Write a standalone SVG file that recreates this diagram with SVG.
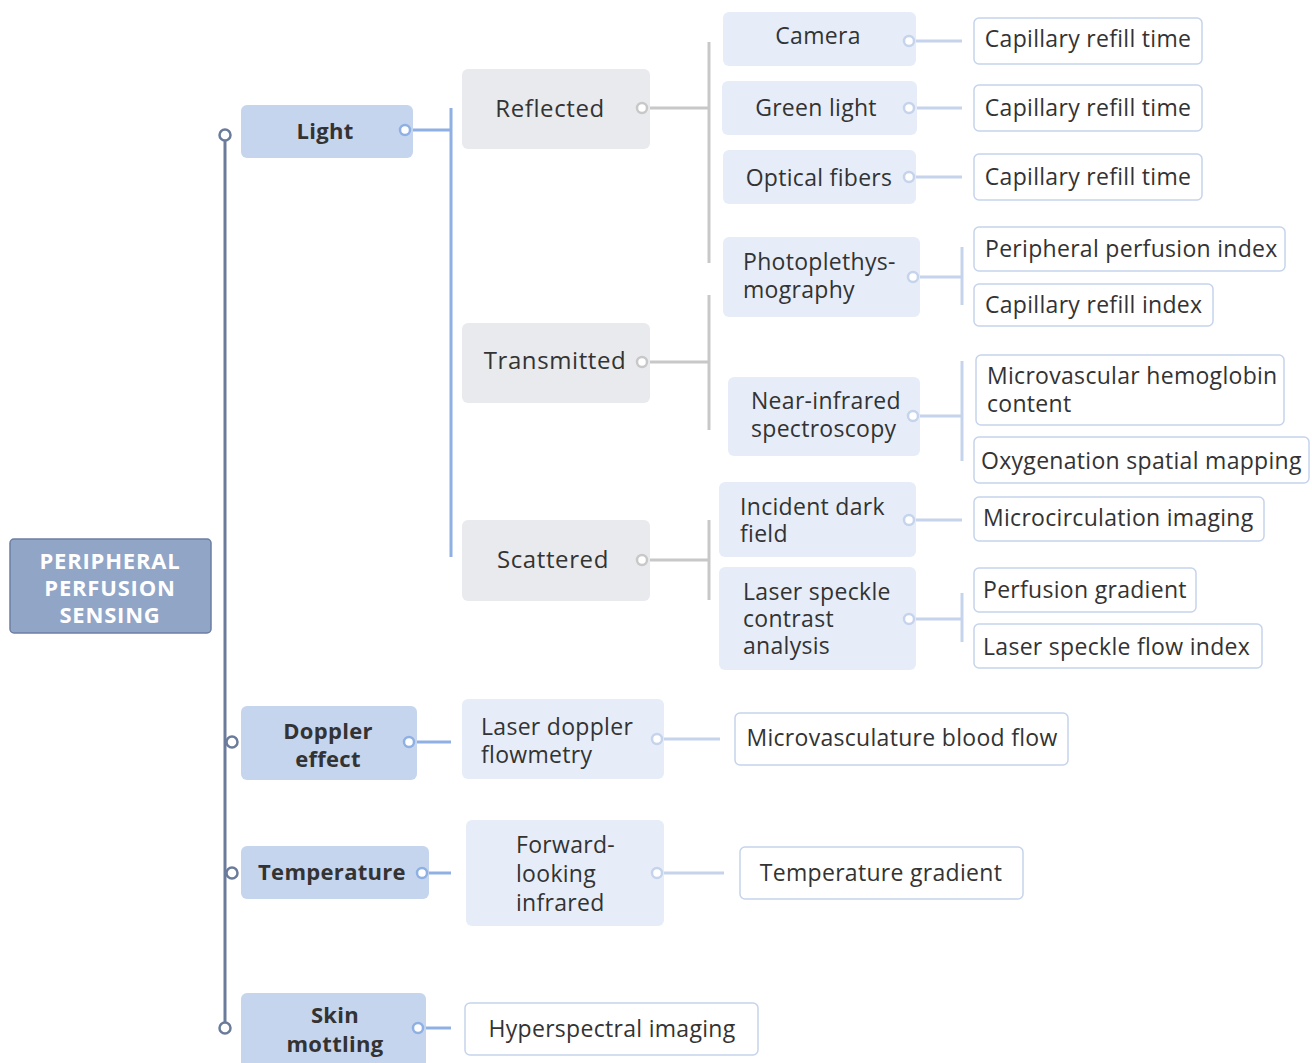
<svg xmlns="http://www.w3.org/2000/svg" width="1312" height="1063" viewBox="0 0 1312 1063">
<style>
text{font-family:"Open Sans","Noto Sans","Liberation Sans",sans-serif;font-size:23px;letter-spacing:0.3px;fill:#333;}
.c{text-anchor:middle;}
.b{font-weight:bold;font-size:22px;letter-spacing:0.3px;}
.root rect{fill:#91a5c7;stroke:#6c7fa2;stroke-width:1.5;}
.root text{fill:#fff;font-weight:bold;font-size:22px;letter-spacing:0.8px;text-anchor:middle;}
.l1 rect{fill:#c6d5ee;}
.l2 rect{fill:#e8eaee;}
.l2 text{font-size:24px;letter-spacing:0.6px;font-weight:500;}
.l3 rect{fill:#e6edf8;}
.leaf rect{fill:#fff;stroke:#c5d4ec;stroke-width:1.5;}
.trunk{stroke:#6b7b9b;stroke-width:3;fill:none;}
.blue{stroke:#8fb0e3;stroke-width:3;fill:none;}
.lblue{stroke:#c5d4ec;stroke-width:3;fill:none;}
.gray{stroke:#c8c8c8;stroke-width:3;fill:none;}
.dk{fill:#fff;stroke:#6b7b9b;stroke-width:2.5;}
.db{fill:#fff;stroke:#8fb0e3;stroke-width:2.5;}
.dl{fill:#fff;stroke:#c5d4ec;stroke-width:2.5;}
.dg{fill:#fff;stroke:#c8c8c8;stroke-width:2.5;}
</style>
<rect width="1312" height="1063" fill="#fff"/>
<g id="connectors">
<line class="trunk" x1="225" y1="135" x2="225" y2="1028"/>
<line class="blue" x1="410" y1="130" x2="451" y2="130"/>
<line class="blue" x1="451" y1="108" x2="451" y2="557"/>
<line class="blue" x1="414" y1="742" x2="451" y2="742"/>
<line class="blue" x1="427" y1="873" x2="451" y2="873"/>
<line class="blue" x1="423" y1="1028" x2="451" y2="1028"/>
<line class="gray" x1="647" y1="108" x2="709" y2="108"/>
<line class="gray" x1="709" y1="42" x2="709" y2="263"/>
<line class="gray" x1="647" y1="362" x2="709" y2="362"/>
<line class="gray" x1="709" y1="295" x2="709" y2="430"/>
<line class="gray" x1="647" y1="560" x2="709" y2="560"/>
<line class="gray" x1="709" y1="520" x2="709" y2="600"/>
<line class="lblue" x1="914" y1="41" x2="962" y2="41"/>
<line class="lblue" x1="914" y1="108" x2="962" y2="108"/>
<line class="lblue" x1="914" y1="177" x2="962" y2="177"/>
<line class="lblue" x1="918" y1="277" x2="962" y2="277"/>
<line class="lblue" x1="962" y1="247" x2="962" y2="305"/>
<line class="lblue" x1="918" y1="416" x2="962" y2="416"/>
<line class="lblue" x1="962" y1="361" x2="962" y2="461"/>
<line class="lblue" x1="914" y1="520" x2="962" y2="520"/>
<line class="lblue" x1="914" y1="619" x2="962" y2="619"/>
<line class="lblue" x1="962" y1="593" x2="962" y2="642"/>
<line class="lblue" x1="662" y1="739" x2="720" y2="739"/>
<line class="lblue" x1="662" y1="873" x2="724" y2="873"/>
</g>
<g id="root" class="root">
<rect x="10" y="539" width="201" height="94" rx="4"/>
<text x="110" y="569">PERIPHERAL</text>
<text x="110" y="596">PERFUSION</text>
<text x="110" y="623">SENSING</text>
</g>
<g id="light" class="l1">
<rect x="241" y="105" width="172" height="53" rx="6"/>
<text class="c b" x="325" y="139">Light</text>
</g>
<g id="doppler" class="l1">
<rect x="241" y="706" width="176" height="74" rx="6"/>
<text class="c b" x="328" y="739">Doppler</text>
<text class="c b" x="328" y="767">effect</text>
</g>
<g id="temperature" class="l1">
<rect x="241" y="846" width="188" height="53" rx="6"/>
<text class="c b" x="332" y="880">Temperature</text>
</g>
<g id="skin" class="l1">
<rect x="241" y="993" width="185" height="76" rx="6"/>
<text class="c b" x="335" y="1023">Skin</text>
<text class="c b" x="335" y="1052">mottling</text>
</g>
<g id="reflected" class="l2">
<rect x="462" y="69" width="188" height="80" rx="6"/>
<text class="c" x="550" y="117">Reflected</text>
</g>
<g id="transmitted" class="l2">
<rect x="462" y="323" width="188" height="80" rx="6"/>
<text class="c" x="555" y="369">Transmitted</text>
</g>
<g id="scattered" class="l2">
<rect x="462" y="520" width="188" height="81" rx="6"/>
<text class="c" x="553" y="568">Scattered</text>
</g>
<g id="camera" class="l3">
<rect x="723" y="12" width="193" height="54" rx="6"/>
<text class="c" x="818" y="44">Camera</text>
</g>
<g id="greenlight" class="l3">
<rect x="722" y="81" width="195" height="54" rx="6"/>
<text class="c" x="816" y="116">Green light</text>
</g>
<g id="opticalfibers" class="l3">
<rect x="723" y="150" width="193" height="54" rx="6"/>
<text class="c" x="819" y="186">Optical fibers</text>
</g>
<g id="ppg" class="l3">
<rect x="723" y="237" width="197" height="80" rx="6"/>
<text x="743" y="270">Photoplethys-</text>
<text x="743" y="298">mography</text>
</g>
<g id="nirs" class="l3">
<rect x="728" y="377" width="192" height="79" rx="6"/>
<text x="751" y="409">Near-infrared</text>
<text x="751" y="437">spectroscopy</text>
</g>
<g id="idf" class="l3">
<rect x="719" y="482" width="197" height="75" rx="6"/>
<text x="740" y="515">Incident dark</text>
<text x="740" y="542">field</text>
</g>
<g id="lsca" class="l3">
<rect x="719" y="567" width="197" height="103" rx="6"/>
<text x="743" y="600">Laser speckle</text>
<text x="743" y="627">contrast</text>
<text x="743" y="654">analysis</text>
</g>
<g id="ldf" class="l3">
<rect x="462" y="699" width="202" height="80" rx="6"/>
<text x="481" y="735">Laser doppler</text>
<text x="481" y="763">flowmetry</text>
</g>
<g id="flir" class="l3">
<rect x="466" y="820" width="198" height="106" rx="6"/>
<text x="516" y="853">Forward-</text>
<text x="516" y="882">looking</text>
<text x="516" y="911">infrared</text>
</g>
<g id="leaf-crt1" class="leaf">
<rect x="974" y="18" width="228" height="46" rx="5"/>
<text class="c" x="1088" y="47">Capillary refill time</text>
</g>
<g id="leaf-crt2" class="leaf">
<rect x="974" y="85" width="228" height="46" rx="5"/>
<text class="c" x="1088" y="116">Capillary refill time</text>
</g>
<g id="leaf-crt3" class="leaf">
<rect x="974" y="154" width="228" height="46" rx="5"/>
<text class="c" x="1088" y="185">Capillary refill time</text>
</g>
<g id="leaf-ppi" class="leaf">
<rect x="974" y="227" width="311" height="44" rx="5"/>
<text x="985" y="257">Peripheral perfusion index</text>
</g>
<g id="leaf-cri" class="leaf">
<rect x="974" y="284" width="239" height="42" rx="5"/>
<text x="985" y="313">Capillary refill index</text>
</g>
<g id="leaf-mhc" class="leaf">
<rect x="976" y="355" width="308" height="70" rx="5"/>
<text x="987" y="384">Microvascular hemoglobin</text>
<text x="987" y="412">content</text>
</g>
<g id="leaf-osm" class="leaf">
<rect x="974" y="437" width="335" height="46" rx="5"/>
<text x="981" y="469">Oxygenation spatial mapping</text>
</g>
<g id="leaf-mci" class="leaf">
<rect x="974" y="497" width="290" height="44" rx="5"/>
<text x="983" y="526">Microcirculation imaging</text>
</g>
<g id="leaf-pg" class="leaf">
<rect x="974" y="568" width="222" height="44" rx="5"/>
<text x="983" y="598">Perfusion gradient</text>
</g>
<g id="leaf-lsfi" class="leaf">
<rect x="974" y="624" width="288" height="44" rx="5"/>
<text x="983" y="655">Laser speckle flow index</text>
</g>
<g id="leaf-mbf" class="leaf">
<rect x="735" y="713" width="333" height="52" rx="5"/>
<text class="c" x="902" y="746">Microvasculature blood flow</text>
</g>
<g id="leaf-tg" class="leaf">
<rect x="740" y="847" width="283" height="52" rx="5"/>
<text class="c" x="881" y="881">Temperature gradient</text>
</g>
<g id="leaf-hsi" class="leaf">
<rect x="465" y="1003" width="293" height="52" rx="5"/>
<text class="c" x="612" y="1037">Hyperspectral imaging</text>
</g>
<g id="dots">
<circle class="dk" cx="225" cy="135" r="5.5"/>
<circle class="dk" cx="232" cy="742" r="5.5"/>
<circle class="dk" cx="232" cy="873" r="5.5"/>
<circle class="dk" cx="225" cy="1028" r="5.5"/>
<circle class="db" cx="405" cy="130" r="5"/>
<circle class="db" cx="409" cy="742" r="5"/>
<circle class="db" cx="422" cy="873" r="5"/>
<circle class="db" cx="418" cy="1028" r="5"/>
<circle class="dg" cx="642" cy="108" r="5"/>
<circle class="dg" cx="642" cy="362" r="5"/>
<circle class="dg" cx="642" cy="560" r="5"/>
<circle class="dl" cx="909" cy="41" r="5"/>
<circle class="dl" cx="909" cy="108" r="5"/>
<circle class="dl" cx="909" cy="177" r="5"/>
<circle class="dl" cx="913" cy="277" r="5"/>
<circle class="dl" cx="913" cy="416" r="5"/>
<circle class="dl" cx="909" cy="520" r="5"/>
<circle class="dl" cx="909" cy="619" r="5"/>
<circle class="dl" cx="657" cy="739" r="5"/>
<circle class="dl" cx="657" cy="873" r="5"/>
</g>
</svg>
